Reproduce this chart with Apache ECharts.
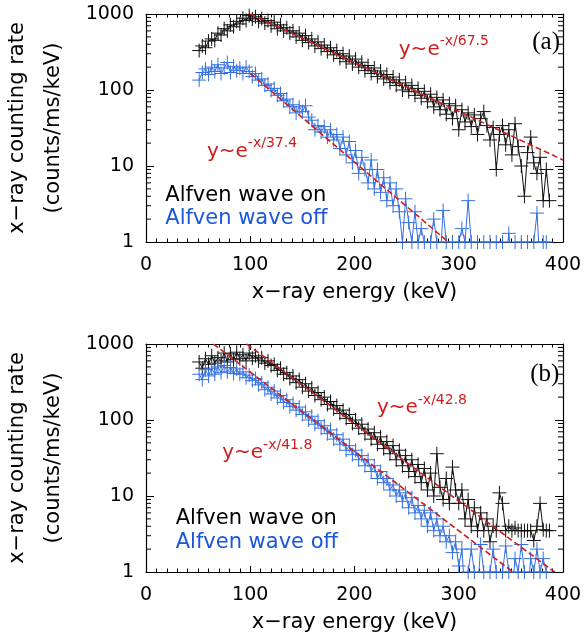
<!DOCTYPE html>
<html><head><meta charset="utf-8">
<script src="https://cdn.jsdelivr.net/npm/echarts@6/dist/echarts.min.js"></script>
<style>html,body{margin:0;padding:0;background:#fff}#c{width:586px;height:634px}</style>
</head><body><div id="c"></div>
<script>
// x-ray energy (keV)
const energy = [
  51,54,57,60,63,66,69,72,75,78,
  81,84,87,90,93,96,99,102,105,108,
  111,114,117,120,123,126,129,132,135,138,
  141,144,147,150,153,156,159,162,165,168,
  171,174,177,180,183,186,189,192,195,198,
  201,204,207,210,213,216,219,222,225,228,
  231,234,237,240,243,246,249,252,255,258,
  261,264,267,270,273,276,279,282,285,288,
  291,294,297,300,303,306,309,312,315,318,
  321,324,327,330,333,336,339,342,345,348,
  351,354,357,360,363,366,369,372,375,378,
  381,384,387];
// panel (a) Alfven wave on
const onA = [
  330,380,360,440,470,450,560,530,640,600,
  720,680,800,740,880,820,950,860,920,800,
  870,760,820,700,780,640,720,600,660,560,
  600,500,560,450,520,420,470,380,430,350,
  390,320,360,290,330,260,300,235,280,220,
  255,200,232,180,210,165,195,150,178,140,
  160,125,148,115,136,100,124,95,115,85,
  105,78,96,70,88,60,80,55,74,48,
  66,42,62,30,55,38,50,33,47,26,
  42,52,34,22,32,9,26,34,19,30,
  14,36,18,10,4,15,24,11,8,13,
  3.5,9,3.5];
// panel (a) Alfven wave off
const offA = [
  135,170,190,160,200,175,215,165,195,230,
  170,205,180,195,165,200,175,150,165,135,
  140,115,120,98,105,85,90,72,76,60,
  64,50,60,52,62,44,40,30,34,28,
  33,24,30,22,26,17,24,14,21,11,
  16,8,13,9,6,12,5,9,4.5,7,
  3.5,6,3,5,2.5,1,3.7,1.8,1,2.5,
  1,1.5,1,0.5,1,2,1,0.5,2.6,1,
  0.5,1,0.5,1,1.5,1,3.5,1,0.5,1,
  0.5,1,0.5,1,0.5,1,0.5,1,0.5,1.3,
  0.5,1,0.5,1,0.5,1,0.5,1,2.4,0.5,
  1,1,0.5];
// panel (b) Alfven wave on
const onB = [
  580,480,640,540,700,560,660,600,760,580,
  740,620,780,640,720,600,760,650,700,600,
  660,560,600,520,540,450,480,400,420,350,
  380,310,340,270,300,240,265,210,230,185,
  200,160,175,140,155,122,135,105,118,90,
  100,78,88,66,76,56,68,48,60,42,
  52,36,46,30,40,25,34,21,30,18,
  26,15,23,12,20,10,36,13,9,17,
  8,24,12,8,12,5,9,4,7,3.5,
  6,3.5,5,2.5,4,3.5,11,8,3.5,4,
  3.5,3.8,3.5,3.5,3.5,3.5,3.5,2.6,4,8,
  3.6,3.5,3.5];
// panel (b) Alfven wave off
const offB = [
  400,340,460,380,480,400,500,420,520,430,
  490,410,470,400,430,360,390,330,350,290,
  310,250,270,220,240,195,210,170,185,150,
  165,135,148,118,128,100,112,88,98,78,
  84,66,74,56,64,48,56,40,46,35,
  40,30,34,25,30,21,25,17,21,15,
  17,12,14,10,12,8.5,11,7,9.5,6,
  7.5,5,6.5,4,6,3.5,5,3,4,2.5,
  3,1.8,2.5,1.2,2,0.5,1,2,1,0.5,
  2.3,1,0.5,1,2,1,0.5,1,2.2,1,
  0.5,1.5,1,2.3,1,0.5,1.5,1,2,1,
  1.5,1,0.5];
// exponential fit line end points [keV, rate]
const fitAon = [[100, 1000], [400, 12]];
const fitAoff = [[100, 166], [290, 1]];
const fitBon = [[96.6, 1000], [392, 1]];
const fitBoff = [[64.6, 1000], [352, 1]];
const fitTexts = ['-x/67.5', '-x/37.4', '-x/42.8', '-x/41.8'];
const xTicks = [0, 100, 200, 300, 400];
const yTicks = [1, 10, 100, 1000];
const yMinor = [2,3,4,5,6,7,8,9,20,30,40,50,60,70,80,90,200,300,400,500,600,700,800,900];

const BLACK = '#111111', BLUE = '#3470e2', BLUETXT = '#1a57dc', RED = '#cf1d1d';
const FONT = 'DejaVu Sans';

const chart = echarts.init(document.getElementById('c'));
const grids = [
  {left: 146, top: 14, width: 417, height: 228, containLabel: false, outerBoundsMode: 'none'},
  {left: 146, top: 344, width: 417, height: 228, containLabel: false, outerBoundsMode: 'none'}
];
function xAx(gi, pos, main) {
  return {
    gridIndex: gi, type: 'value', min: xTicks[0], max: xTicks[xTicks.length - 1], interval: 100, position: pos,
    axisLine: {show: true, onZero: false, lineStyle: {color: '#000', width: 1.2}},
    axisTick: {show: true, inside: true, length: 6, lineStyle: {color: '#000', width: 1}},
    minorTick: {show: true, splitNumber: 10, length: 3.5, lineStyle: {color: '#000', width: 1}},
    splitLine: {show: false},
    axisLabel: {show: main, margin: 14, color: '#000', fontSize: 19, fontFamily: FONT},
    name: main ? 'x\u2212ray energy (keV)' : '', nameLocation: 'middle', nameGap: 40,
    nameTextStyle: {color: '#000', fontSize: 21, fontFamily: FONT}
  };
}
function yAx(gi, pos, main) {
  return {
    gridIndex: gi, type: 'log', logBase: 10, min: yTicks[0], max: yTicks[yTicks.length - 1], position: pos,
    axisLine: {show: true, onZero: false, lineStyle: {color: '#000', width: 1.2}},
    axisTick: {show: true, inside: true, length: 8, lineStyle: {color: '#000', width: 1}},
    minorTick: {show: false}, splitLine: {show: false},
    axisLabel: {show: main, margin: 12, color: '#000', fontSize: 19, fontFamily: FONT,
      formatter: v => String(yTicks.find(t => Math.abs(t - v) < 1e-6 * t) ?? Math.round(v))},
    name: main ? 'x\u2212ray counting rate\n(counts/ms/keV)' : '', nameLocation: 'middle', nameGap: 74,
    nameTextStyle: {color: '#000', fontSize: 21, fontFamily: FONT, lineHeight: 36}
  };
}
const plusSym = 'path://M5,0L5,10M0,5L10,5';
function dataSeries(gi, ys, color) {
  return {
    type: 'line', xAxisIndex: gi * 2, yAxisIndex: gi * 2, z: 2,
    data: energy.map((x, i) => [x, ys[i]]),
    symbol: plusSym, symbolSize: 14, showAllSymbol: true,
    itemStyle: {color: 'transparent', borderColor: color, borderWidth: 1},
    lineStyle: {color: color, width: 1}, clip: true, animation: false, silent: true
  };
}
function fitSeries(gi, pts) {
  return {
    type: 'line', xAxisIndex: gi * 2, yAxisIndex: gi * 2, z: 5, data: pts, symbol: 'none',
    lineStyle: {color: RED, width: 1.6, type: [6, 3]}, clip: true, animation: false, silent: true
  };
}
function minorSeries(gi) {
  return {
    type: 'custom', xAxisIndex: gi * 2, yAxisIndex: gi * 2, z: 6, silent: true,
    data: yMinor.map(v => [xTicks[0], v]),
    renderItem: (params, api) => {
      const v = api.value(1);
      const l = api.coord([xTicks[0], v]);
      const r = api.coord([xTicks[xTicks.length - 1], v]);
      return {type: 'group', children: [
        {type: 'line', shape: {x1: l[0], y1: l[1], x2: l[0] + 5, y2: l[1]}, style: {stroke: '#000', lineWidth: 1}},
        {type: 'line', shape: {x1: r[0], y1: r[1], x2: r[0] - 5, y2: r[1]}, style: {stroke: '#000', lineWidth: 1}}
      ]};
    }
  };
}
function textSeries(gi, items) {
  return {
    type: 'scatter', xAxisIndex: gi * 2, yAxisIndex: gi * 2, z: 8, silent: true, symbolSize: 1,
    itemStyle: {color: 'transparent', opacity: 1},
    data: items.map(it => ({value: [it.x, it.y], label: it.label})),
    label: {show: true, position: 'right', distance: 0, align: 'left', verticalAlign: 'middle', opacity: 1}
  };
}
function fitLabel(txt) {
  return {
    formatter: '{m|y~e}{s|' + txt + '}',
    rich: {
      m: {fontSize: 20, color: RED, fontFamily: FONT, lineHeight: 30},
      s: {fontSize: 14, color: RED, fontFamily: FONT, lineHeight: 14, verticalAlign: 'top'}
    }
  };
}
function legLabel(txt, color) {
  return {formatter: txt, color: color, fontSize: 21, fontFamily: FONT};
}
function tagLabel(txt) {
  return {formatter: txt, color: '#000', fontSize: 25, fontFamily: 'Liberation Serif'};
}

chart.setOption({
  animation: false,
  backgroundColor: '#fff',
  grid: grids,
  xAxis: [xAx(0, 'bottom', true), xAx(0, 'top', false), xAx(1, 'bottom', true), xAx(1, 'top', false)],
  yAxis: [yAx(0, 'left', true), yAx(0, 'right', false), yAx(1, 'left', true), yAx(1, 'right', false)],
  series: [
    dataSeries(0, onA, BLACK), dataSeries(0, offA, BLUE),
    fitSeries(0, fitAon), fitSeries(0, fitAoff),
    dataSeries(1, onB, BLACK), dataSeries(1, offB, BLUE),
    fitSeries(1, fitBon), fitSeries(1, fitBoff),
    minorSeries(0), minorSeries(1),
    textSeries(0, [
      {x: 242, y: 339, label: fitLabel(fitTexts[0])},
      {x: 58, y: 15.4, label: fitLabel(fitTexts[1])},
      {x: 18, y: 4.1, label: legLabel('Alfven wave on', '#000')},
      {x: 18, y: 2.04, label: legLabel('Alfven wave off', BLUETXT)},
      {x: 370, y: 420, label: tagLabel('(a)')}
    ]),
    textSeries(1, [
      {x: 221, y: 143, label: fitLabel(fitTexts[2])},
      {x: 72.6, y: 36.5, label: fitLabel(fitTexts[3])},
      {x: 28, y: 5.1, label: legLabel('Alfven wave on', '#000')},
      {x: 28, y: 2.45, label: legLabel('Alfven wave off', BLUETXT)},
      {x: 368, y: 400, label: tagLabel('(b)')}
    ])
  ]
});
</script></body></html>
